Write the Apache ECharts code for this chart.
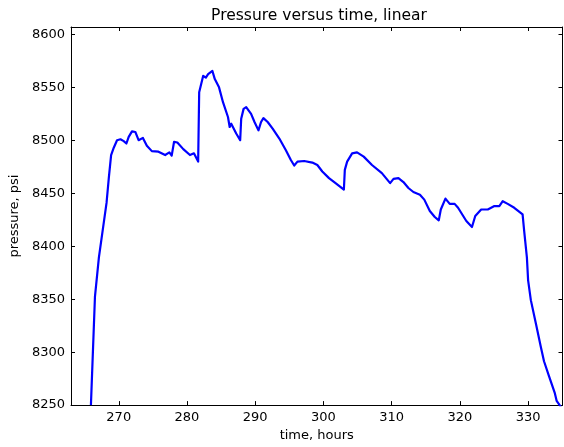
<!DOCTYPE html>
<html>
<head>
<meta charset="utf-8">
<script src="https://cdn.jsdelivr.net/npm/echarts@6/dist/echarts.min.js"></script>
<style>
  html, body { margin: 0; padding: 0; background: #fff; }
  #chart { width: 564px; height: 447px; }
</style>
</head>
<body>
<div id="chart"></div>
<script>
// Elapsed time of each pressure reading, hours
const timeHours = [
  265.92, 266.51, 267.09, 268.21, 268.54, 268.88, 269.27, 269.75, 270.25, 270.73,
  271.12, 271.46, 271.94, 272.43, 272.91, 273.54, 274.12, 274.85, 275.82, 276.80,
  277.42, 277.76, 278.11, 278.59, 279.46, 280.44, 281.02, 281.64, 281.79, 282.37,
  282.77, 283.10, 283.73, 284.08, 284.70, 285.28, 286.01, 286.26, 286.49, 287.22,
  287.80, 287.95, 288.30, 288.68, 289.40, 289.90, 290.48, 290.86, 291.21, 291.83,
  292.56, 293.54, 294.50, 295.23, 295.72, 296.20, 297.18, 298.38, 299.11, 299.84,
  300.82, 301.78, 303.00, 303.14, 303.48, 304.21, 304.93, 305.91, 307.12, 308.57,
  309.78, 310.28, 311.00, 311.73, 312.46, 313.19, 314.15, 314.79, 315.60, 316.33,
  316.91, 317.21, 317.89, 318.52, 319.24, 319.74, 320.95, 321.78, 322.26, 323.13,
  324.10, 325.07, 325.79, 326.29, 327.02, 327.98, 329.20, 329.35, 329.43, 329.83,
  330.01, 330.41, 331.14, 331.86, 332.34, 333.07, 333.90, 334.19, 334.53, 335.00
];

// Measured pressure at each time, psi
const pressurePsi = [
  8250.0, 8352.1, 8389.5, 8440.9, 8464.3, 8486.1, 8493.0, 8500.1, 8501.0, 8499.2,
  8497.0, 8503.3, 8508.5, 8507.9, 8500.1, 8502.3, 8494.9, 8489.8, 8489.3, 8486.1,
  8488.6, 8485.5, 8498.6, 8497.9, 8491.7, 8486.1, 8487.7, 8479.9, 8545.3, 8560.8,
  8559.3, 8562.4, 8565.5, 8557.8, 8550.0, 8536.0, 8522.0, 8512.6, 8515.7, 8506.4,
  8500.1, 8520.4, 8529.7, 8531.3, 8525.0, 8517.3, 8509.4, 8517.3, 8521.0, 8517.3,
  8511.0, 8501.7, 8490.7, 8481.4, 8476.2, 8479.9, 8480.5, 8479.0, 8476.7, 8470.6,
  8464.3, 8459.6, 8453.4, 8472.1, 8479.9, 8487.7, 8488.6, 8484.6, 8476.7, 8469.0,
  8459.6, 8463.6, 8464.3, 8460.6, 8455.0, 8451.2, 8448.7, 8444.0, 8433.2, 8427.6,
  8424.4, 8434.7, 8445.0, 8440.0, 8440.0, 8436.3, 8423.8, 8418.2, 8428.5, 8434.7,
  8434.7, 8437.9, 8437.9, 8442.5, 8440.0, 8436.3, 8430.0, 8428.5, 8414.5, 8389.5,
  8367.8, 8349.1, 8327.2, 8305.4, 8291.4, 8277.4, 8261.8, 8254.0, 8250.9, 8246.0
];

// Tick positions
const xTicks = [270, 280, 290, 300, 310, 320, 330];
const yTicks = [8250, 8300, 8350, 8400, 8450, 8500, 8550, 8600];

const X_MIN = 263, X_MAX = 335.05;
const Y_MIN = 8250, Y_MAX = 8607;

const FONT = 'DejaVu Sans';
const plain = (v) => String(v);
const frameLine = { show: true, onZero: false, lineStyle: { color: '#000', width: 1 } };
const innerTick = (vals) => ({
  show: true, inside: true, length: 4, customValues: vals,
  lineStyle: { color: '#000', width: 1 }
});

const chart = echarts.init(document.getElementById('chart'), null, { renderer: 'canvas' });

chart.setOption({
  animation: false,
  backgroundColor: '#fff',
  title: {
    text: 'Pressure versus time, linear',
    left: 314, top: 3, textAlign: 'center',
    textStyle: { fontFamily: FONT, fontSize: 15.5, fontWeight: 'normal', color: '#000' }
  },
  grid: { left: 67.5, right: 1.5, top: 27, bottom: 37.5, containLabel: false },
  xAxis: [
    {
      type: 'value', position: 'bottom', min: X_MIN, max: X_MAX,
      axisLine: frameLine, axisTick: innerTick(xTicks), splitLine: { show: false },
      axisLabel: {
        customValues: xTicks, margin: 6, color: '#000', formatter: plain,
        fontFamily: FONT, fontSize: 13
      },
      name: 'time, hours', nameLocation: 'middle', nameGap: 19,
      nameTextStyle: { fontFamily: FONT, fontSize: 13, color: '#000', verticalAlign: 'top' }
    },
    {
      type: 'value', position: 'top', min: X_MIN, max: X_MAX,
      axisLine: frameLine, axisTick: innerTick(xTicks),
      axisLabel: { show: false }, splitLine: { show: false }
    }
  ],
  yAxis: [
    {
      type: 'value', position: 'left', min: Y_MIN, max: Y_MAX,
      axisLine: frameLine, axisTick: innerTick(yTicks), splitLine: { show: false },
      axisLabel: {
        customValues: yTicks, margin: 6, color: '#000', formatter: plain,
        fontFamily: FONT, fontSize: 13
      },
      name: 'pressure, psi', nameLocation: 'middle', nameGap: 50, nameRotate: 90,
      nameTextStyle: { fontFamily: FONT, fontSize: 13, color: '#000' }
    },
    {
      type: 'value', position: 'right', min: Y_MIN, max: Y_MAX,
      axisLine: frameLine, axisTick: innerTick(yTicks),
      axisLabel: { show: false }, splitLine: { show: false }
    }
  ],
  series: [
    {
      type: 'line',
      data: timeHours.map((t, i) => [t, pressurePsi[i]]),
      showSymbol: false, symbol: 'none', clip: true,
      lineStyle: { color: '#0000ff', width: 2.2, join: 'round' }
    }
  ]
});
</script>
</body>
</html>
